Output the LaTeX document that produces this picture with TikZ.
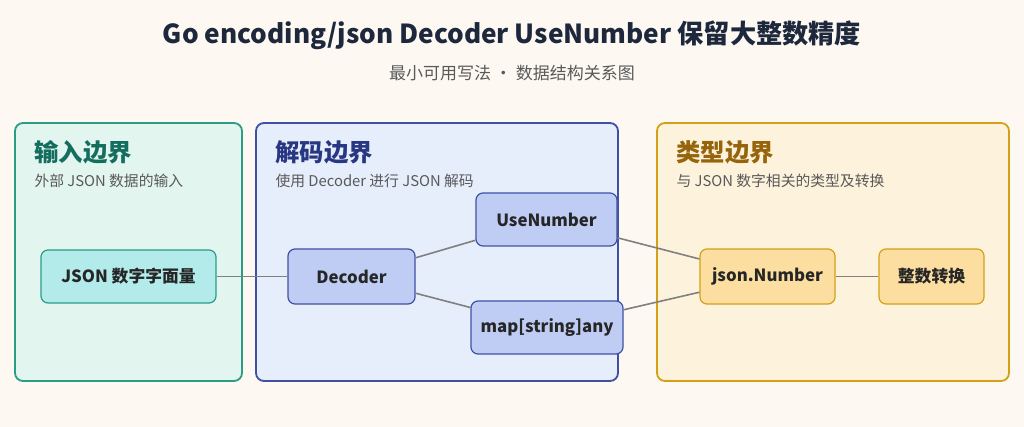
\documentclass[tikz,border=0pt]{standalone}
\usepackage{fontspec}
\setmainfont{Noto Sans CJK SC}
\begin{document}
\begin{tikzpicture}[x=1pt,y=-1pt,
 zone/.style={rounded corners=8pt,line width=1.8pt},
 nd/.style={rounded corners=7pt,line width=1.2pt,font=\fontsize{16.8}{20}\selectfont\bfseries,text=black!85,inner sep=0pt},
 ed/.style={draw=black!50,line width=1.6pt},
 hd/.style={anchor=west,font=\fontsize{24.4}{28}\selectfont\bfseries},
 sb/.style={anchor=west,font=\fontsize{14.8}{17}\selectfont,text=black!65}]
\fill[fill={rgb,255:red,253;green,249;blue,242}] (0,0) rectangle (1024,427);
\useasboundingbox (0,0) rectangle (1024,427);
\node[font=\fontsize{26.2}{30}\selectfont\bfseries,text={rgb,255:red,30;green,40;blue,60}] (title) at (512,35) {Go encoding/json Decoder UseNumber 保留大整数精度};
\node[font=\fontsize{17}{20}\selectfont,text=black!65] (sub) at (512,73) {最小可用写法 · 数据结构关系图};
\draw[zone,draw={rgb,255:red,42;green,157;blue,135},fill={rgb,255:red,227;green,245;blue,239}] (15,123) rectangle (242,381);
\draw[zone,draw={rgb,255:red,63;green,81;blue,165},fill={rgb,255:red,230;green,237;blue,251}] (256,123) rectangle (618,381);
\draw[zone,draw={rgb,255:red,212;green,160;blue,23},fill={rgb,255:red,253;green,243;blue,220}] (657,123) rectangle (1009,381);
\node[hd,text={rgb,255:red,20;green,110;blue,95}] (h1) at (31,152) {输入边界};
\node[sb] (s1) at (31,181) {外部 JSON 数据的输入};
\node[hd,text={rgb,255:red,40;green,55;blue,130}] (h2) at (272,152) {解码边界};
\node[sb] (s2) at (272,181) {使用 Decoder 进行 JSON 解码};
\node[hd,text={rgb,255:red,150;green,100;blue,10}] (h3) at (673,152) {类型边界};
\node[sb] (s3) at (673,181) {与 JSON 数字相关的类型及转换};
\tikzset{tl/.style={nd,draw={rgb,255:red,42;green,157;blue,135},fill={rgb,255:red,179;green,235;blue,235}},
 bl/.style={nd,draw={rgb,255:red,63;green,81;blue,165},fill={rgb,255:red,191;green,205;blue,245}},
 og/.style={nd,draw={rgb,255:red,212;green,160;blue,23},fill={rgb,255:red,252;green,223;blue,160}}}
\node[tl,minimum width=175pt,minimum height=53pt] (json) at (128.5,276.5) {JSON 数字字面量};
\node[bl,minimum width=127pt,minimum height=55pt] (dec) at (351.5,276.5) {Decoder};
\node[bl,minimum width=141pt,minimum height=53pt] (use) at (546.5,219.5) {UseNumber};
\node[bl,minimum width=152pt,minimum height=53pt] (map) at (547,327.5) {map[string]any};
\node[og,minimum width=135pt,minimum height=55pt] (num) at (767.5,276.5) {json.Number};
\node[og,minimum width=105pt,minimum height=55pt] (int) at (931.5,276.5) {整数转换};
\draw[ed] (json) -- (dec);
\draw[ed] (dec) -- (use);
\draw[ed] (dec) -- (map);
\draw[ed] (use) -- (num);
\draw[ed] (map) -- (num);
\draw[ed] (num) -- (int);
\end{tikzpicture}
\end{document}
